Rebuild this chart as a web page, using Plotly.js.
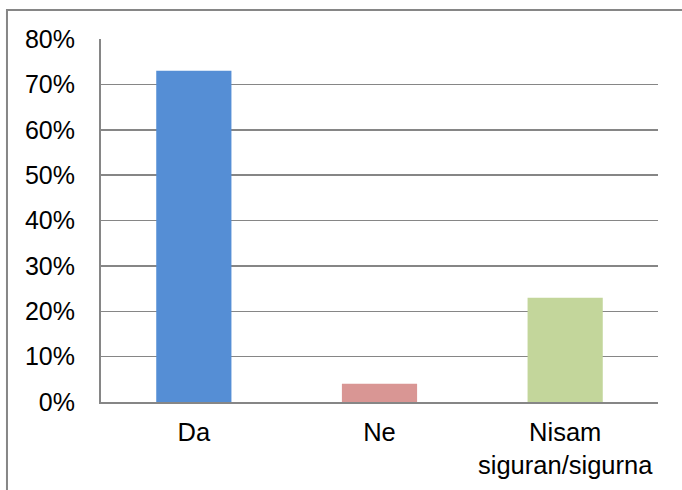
<!DOCTYPE html>
<html>
<head>
<meta charset="utf-8">
<script src="https://cdn.plot.ly/plotly-3.0.1.min.js"></script>
<style>
html,body{margin:0;padding:0;background:#fff;}
#chart{width:682px;height:490px;}
</style>
</head>
<body>
<div id="chart"></div>
<script>
const categories = ["Da", "Ne", "Nisam<br>siguran/sigurna"];
const values = [0.73, 0.04, 0.23];
const barColors = ["#558ED5", "#D99694", "#C3D69B"];
const yTickVals = [0, 0.1, 0.2, 0.3, 0.4, 0.5, 0.6, 0.7, 0.8];
const yTickText = ["0%", "10%", "20%", "30%", "40%", "50%", "60%", "70%", "80%"];

const trace = {
  type: "bar",
  x: categories,
  y: values,
  marker: {color: barColors, line: {width: 0}},
  width: 0.405,
  hoverinfo: "none"
};

const layout = {
  width: 682,
  height: 490,
  margin: {l: 101, r: 24, t: 39, b: 88, pad: 0},
  paper_bgcolor: "#ffffff",
  plot_bgcolor: "#ffffff",
  font: {family: "Liberation Sans, Arial, sans-serif", size: 25, color: "#000000"},
  showlegend: false,
  xaxis: {
    type: "category",
    showgrid: false,
    showline: true,
    linecolor: "#868686",
    linewidth: 2,
    ticks: "",
    tickfont: {size: 25.5, color: "#000000"},
    ticklabelstandoff: 6,
    zeroline: false,
    fixedrange: true
  },
  yaxis: {
    range: [0, 0.8],
    tickvals: yTickVals,
    ticktext: yTickText,
    showgrid: true,
    gridcolor: "#868686",
    gridwidth: 1.5,
    showline: true,
    linecolor: "#868686",
    linewidth: 2,
    ticks: "",
    ticklabelstandoff: 19,
    tickfont: {size: 25, color: "#000000"},
    zeroline: false,
    fixedrange: true
  },
  shapes: [
    {type: "rect", xref: "paper", yref: "paper",
     x0: -0.1688, x1: 1.1, y0: -0.4, y1: 1.0799,
     line: {color: "#868686", width: 2}, fillcolor: "rgba(0,0,0,0)", layer: "below"}
  ]
};

Plotly.newPlot("chart", [trace], layout, {displayModeBar: false, staticPlot: true});
</script>
</body>
</html>
